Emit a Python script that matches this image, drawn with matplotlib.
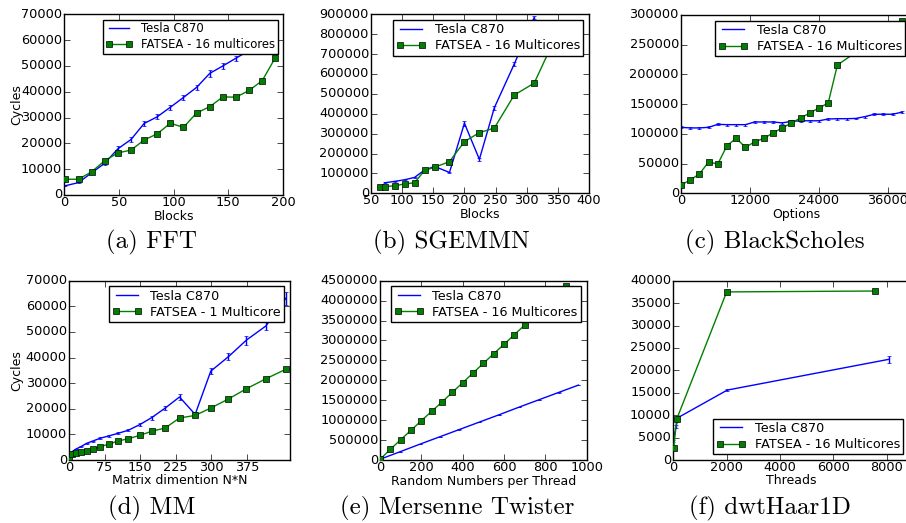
import matplotlib
matplotlib.use("Agg")
import matplotlib.pyplot as plt

# (a) FFT
fft_blocks = [1, 13, 25, 37, 49, 61, 73, 85, 97, 109, 121, 133, 145, 157, 169, 181, 193]
fft_tesla = [3600, 4800, 8600, 12300, 17900, 21500, 27700, 30300, 34000, 37800,
             41700, 47100, 50000, 53000, 56000, 59500, 63000]
fft_tesla_err = [300, 300, 500, 500, 900, 1100, 1000, 900, 1000, 1000, 1000, 1200,
                 1200, 900, 1000, 1000, 1000]
fft_fatsea = [6100, 6100, 9000, 13300, 16300, 17400, 21300, 23700, 27800, 26200,
              31800, 34200, 38000, 37900, 40500, 44300, 53200]

# (b) SGEMMN
sg_tesla_x = [72, 88, 104, 120, 136, 152, 176, 200, 224, 248, 280, 312]
sg_tesla = [53000, 60000, 68000, 80000, 117000, 135000, 105000, 352000, 171000,
            430000, 650000, 883000]
sg_tesla_err = [3000, 3000, 3000, 3000, 4000, 4000, 4000, 12000, 8000, 10000, 10000, 8000]
sg_fatsea_x = [64, 72, 88, 104, 120, 136, 152, 176, 200, 224, 248, 280, 312, 344]
sg_fatsea = [33000, 33000, 38000, 47000, 53000, 115000, 131000, 159000, 260000,
             305000, 328000, 494000, 554000, 770000]

# (c) BlackScholes
bs_tesla_x = [0, 1600, 3200, 4800, 6400, 8000, 9600, 11200, 12800, 14400, 16000, 17600,
              19200, 20800, 22400, 24000, 25600, 27200, 28800, 30400, 32000, 33600,
              35200, 36800, 38400]
bs_tesla = [111000, 110000, 110000, 111000, 116000, 115500, 115500, 115500, 120000,
            120000, 120000, 118500, 121000, 122000, 122000, 122000, 125000, 125500,
            125500, 126000, 129000, 133000, 133000, 133000, 136500]
bs_tesla_err = [1500] * 25
bs_fatsea_x = [0, 1600, 3200, 4800, 6400, 8000, 9600, 11200, 12800, 14400, 16000, 17600,
               19200, 20800, 22400, 24000, 25600, 27200, 38400]
bs_fatsea = [14000, 22400, 32500, 52700, 49300, 80200, 92500, 77400, 86400, 92500,
             101500, 109900, 118300, 126700, 135200, 143600, 152000, 215900, 290500]

# (d) MM
mm_x = [1, 6, 15, 25, 37, 50, 66, 84, 103, 125, 149, 174, 203, 233, 266, 299, 336,
        374, 415, 457]
mm_tesla = [2300, 3200, 4300, 5200, 6500, 7400, 8500, 9400, 10400, 11600, 13800, 16500,
            20300, 24600, 17800, 34700, 40300, 46800, 52300, 63100]
mm_tesla_err = [100, 100, 150, 200, 200, 200, 300, 300, 400, 400, 500, 700, 800, 1000,
                800, 1200, 1400, 1800, 1500, 2500]
mm_fatsea = [1300, 2200, 2600, 3100, 3600, 4200, 5200, 6200, 7400, 8300, 9600, 11200,
             12500, 16400, 17400, 20300, 23800, 27800, 31700, 35400]

# (e) Mersenne Twister
mt_tesla_x = [1, 96, 192, 288, 384, 480, 576, 672, 768, 864, 960]
mt_tesla = [20000, 205000, 395000, 580000, 765000, 950000, 1135000, 1325000, 1510000,
            1695000, 1880000]
mt_tesla_err = [3000] * 11
mt_fatsea_x = [1, 50, 100, 150, 200, 250, 300, 350, 400, 450, 500, 550, 600, 650, 700,
               750, 800, 850, 900]
mt_fatsea = [20000, 268000, 509000, 745000, 986000, 1222000, 1455000, 1699000, 1940000,
             2183000, 2426000, 2667000, 2903000, 3145000, 3387000, 3630000, 3870000,
             4115000, 4366000]

# (f) dwtHaar1D
dw_tesla_x = [1, 100, 190, 2025, 8075]
dw_tesla = [4200, 7400, 9500, 15600, 22450]
dw_tesla_err = [200, 300, 300, 200, 700]
dw_fatsea_x = [15, 127, 2002, 7575]
dw_fatsea = [2600, 9100, 37500, 37700]

plt.style.use('classic')
plt.rcParams.update({
    'figure.facecolor': 'white',
    'savefig.facecolor': 'white',
    'font.family': 'DejaVu Sans',
    'xtick.labelsize': 9.3,
    'ytick.labelsize': 9.3,
    'xtick.major.pad': 0.5,
    'ytick.major.pad': 1.5,
    'axes.labelsize': 9,
})

W, H = 906, 523
fig = plt.figure(figsize=(W / 100, H / 100), dpi=100)


def add_panel(l, t, r, b):
    return fig.add_axes([l / W, 1 - b / H, (r - l) / W, (b - t) / H])


def draw(ax, tx, ty, terr, fx, fy, flabel, legsize=9.2, loc='upper right'):
    ax.plot(tx, ty, color='b', lw=1, label='Tesla C870', zorder=2)
    ax.errorbar(tx, ty, yerr=terr, fmt='none', ecolor='b', elinewidth=1,
                capsize=1.5, zorder=2)
    ax.plot(fx, fy, '-s', color='g', mfc='g', mec='k', ms=5, lw=1,
            label=flabel, zorder=3)
    ax.legend(loc=loc, fontsize=legsize, numpoints=2, handlelength=2.3,
              handletextpad=0.7, borderpad=0.25, labelspacing=0.25,
              borderaxespad=0.45, fancybox=False)


def xlab(ax, text, height):
    ax.set_xlabel(text)
    ax.xaxis.set_label_coords(0.5, -14.5 / height)


# (a)
ax = add_panel(64.3, 14.3, 283, 195)
draw(ax, fft_blocks, fft_tesla, fft_tesla_err, fft_blocks, fft_fatsea,
     'FATSEA - 16 multicores', legsize=8.4)
ax.set_xlim(0, 200)
ax.set_ylim(0, 70000)
ax.set_xticks(range(0, 201, 50))
ax.set_yticks(range(0, 70001, 10000))
xlab(ax, 'Blocks', 180.7)
ax.set_ylabel('Cycles')
ax.yaxis.set_label_coords(-0.187, 0.5)

# (b)
ax = add_panel(371, 14.3, 589, 193.3)
draw(ax, sg_tesla_x, sg_tesla, sg_tesla_err, sg_fatsea_x, sg_fatsea,
     'FATSEA - 16 Multicores')
ax.set_xlim(50, 400)
ax.set_ylim(0, 900000)
ax.set_xticks(range(50, 401, 50))
ax.set_yticks(range(0, 900001, 100000))
xlab(ax, 'Blocks', 179)

# (c)
ax = add_panel(681, 15, 911, 193.3)
draw(ax, bs_tesla_x, bs_tesla, bs_tesla_err, bs_fatsea_x, bs_fatsea,
     'FATSEA - 16 Multicores')
ax.set_xlim(0, 40000)
ax.set_ylim(0, 300000)
ax.set_xticks([0, 12000, 24000, 36000])
ax.set_yticks(range(0, 300001, 50000))
ax.tick_params(right=False)
xlab(ax, 'Options', 178.3)

# (d)
ax = add_panel(69, 280.7, 290, 460)
draw(ax, mm_x, mm_tesla, mm_tesla_err, mm_x, mm_fatsea, 'FATSEA - 1 Multicore')
ax.set_xlim(0, 466)
ax.set_ylim(0, 70000)
ax.set_xticks(range(0, 376, 75))
ax.set_yticks(range(0, 70001, 10000))
xlab(ax, 'Matrix dimention N*N', 179.3)
ax.set_ylabel('Cycles')
ax.yaxis.set_label_coords(-0.206, 0.5)

# (e)
ax = add_panel(380, 280.7, 586.7, 460)
draw(ax, mt_tesla_x, mt_tesla, mt_tesla_err, mt_fatsea_x, mt_fatsea,
     'FATSEA - 16 Multicores')
ax.set_xlim(0, 1000)
ax.set_ylim(0, 4500000)
ax.set_xticks(range(0, 1001, 200))
ax.set_yticks(range(0, 4500001, 500000))
xlab(ax, 'Random Numbers per Thread', 179.3)

# (f)
ax = add_panel(673.3, 280.7, 909, 460)
draw(ax, dw_tesla_x, dw_tesla, dw_tesla_err, dw_fatsea_x, dw_fatsea,
     'FATSEA - 16 Multicores', loc='lower right')
ax.set_xlim(0, 8840)
ax.set_ylim(0, 40000)
ax.set_xticks(range(0, 8001, 2000))
ax.set_yticks(range(0, 40001, 5000))
ax.tick_params(right=False)
xlab(ax, 'Threads', 179.3)

captions = ['(a) FFT', '(b) SGEMMN', '(c) BlackScholes',
            '(d) MM', '(e) Mersenne Twister', '(f) dwtHaar1D']
cap_xy = [(151, 242), (451, 242), (775, 242), (152, 508), (457, 508), (770, 508)]
for text, (cx, cy) in zip(captions, cap_xy):
    fig.text(cx / W, 1 - cy / H, text, family='cmr10', fontsize=18,
             ha='center', va='center')

fig.savefig('out.png', dpi=100)
